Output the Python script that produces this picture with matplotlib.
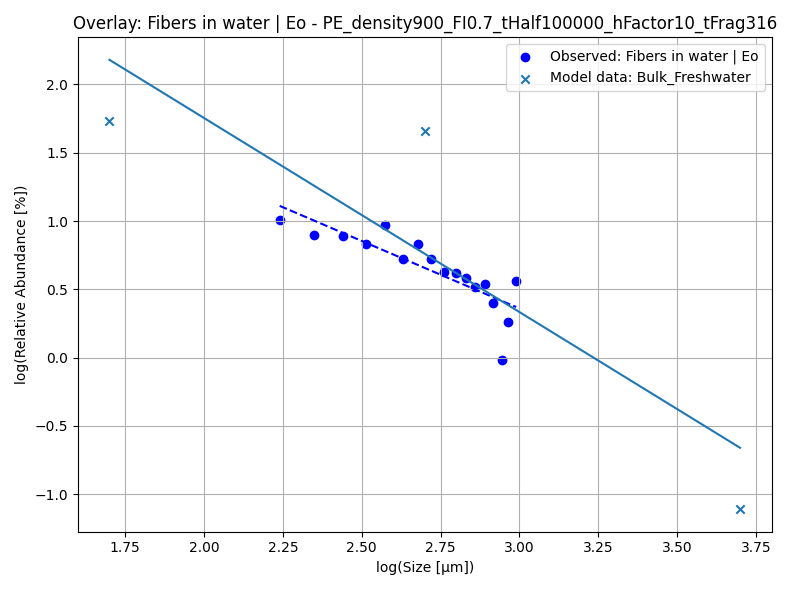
import numpy as np
import matplotlib.pyplot as plt

obs_x = [2.24, 2.35, 2.44, 2.515, 2.575, 2.63, 2.68, 2.72, 2.76, 2.80, 2.83, 2.86, 2.89, 2.915, 2.945, 2.965, 2.99]
obs_y = [1.01, 0.90, 0.89, 0.83, 0.97, 0.72, 0.83, 0.72, 0.63, 0.62, 0.58, 0.52, 0.54, 0.40, -0.02, 0.26, 0.56]
mod_x = [1.70, 2.70, 3.70]
mod_y = [1.73, 1.66, -1.11]

fig, ax = plt.subplots(figsize=(7.88, 5.9), dpi=100)
ax.scatter(obs_x, obs_y, color='blue', label='Observed: Fibers in water | Eo')
ax.scatter(mod_x, mod_y, marker='x', color='tab:blue', label='Model data: Bulk_Freshwater')

# linear fits
p = np.polyfit(obs_x, obs_y, 1)
xs = np.array([min(obs_x), max(obs_x)])
ax.plot(xs, np.polyval(p, xs), '--', color='blue')
m = np.polyfit(mod_x, mod_y, 1)
xm = np.array([min(mod_x), max(mod_x)])
ax.plot(xm, np.polyval(m, xm), color='tab:blue')

ax.set_xlabel('log(Size [µm])')
ax.set_ylabel('log(Relative Abundance [%])')
ax.set_title('Overlay: Fibers in water | Eo - PE_density900_FI0.7_tHalf100000_hFactor10_tFrag316')
ax.grid(True)
ax.legend(loc='upper right')
fig.tight_layout()
fig.savefig('out.png')
